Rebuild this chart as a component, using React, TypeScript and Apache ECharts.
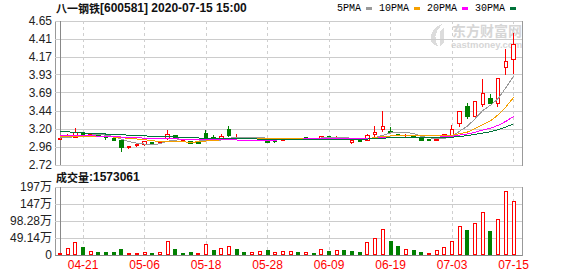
import React, { useEffect, useRef } from 'react';
import * as echarts from 'echarts';

const dates = ['04-16','04-17','04-20','04-21','04-22','04-23','04-24','04-27','04-28','04-29','04-30',
  '05-06','05-07','05-08','05-11','05-12','05-13','05-14','05-15','05-18','05-19','05-20','05-21','05-22','05-25','05-26','05-27','05-28','05-29',
  '06-01','06-02','06-03','06-04','06-05','06-08','06-09','06-10','06-11','06-12','06-15','06-16','06-17','06-18','06-19','06-22','06-23','06-24','06-29','06-30',
  '07-01','07-02','07-03','07-06','07-07','07-08','07-09','07-10','07-13','07-14','07-15'];

const opens = [3.06,3.10,3.095,3.145,3.115,3.115,3.095,3.075,3.045,2.955, 2.975,3.0,3.015,3.015,3.075,3.12,3.05,3.04,3.03,3.145, 3.085,3.07,3.20,3.08,3.085,3.08,3.09,3.05,3.045,3.045, 3.07,3.08,3.085,3.08,3.075,3.10,3.075,3.09,3.015,3.055, 3.055,3.13,3.195,3.175,3.135,3.115,3.105,3.085,3.065,3.05, 3.10,3.12,3.28,3.51,3.37,3.525,3.605,3.55,4.03,4.13];
const closes = [3.075,3.115,3.16,3.125,3.13,3.10,3.09,3.05,2.96,2.965, 2.995,3.03,3.005,3.03,3.135,3.07,3.06,3.005,3.01,3.08, 3.08,3.10,3.115,3.095,3.08,3.085,3.09,3.025,3.03,3.065, 3.08,3.075,3.08,3.075,3.10,3.08,3.095,3.08,3.045,3.035, 3.11,3.16,3.24,3.15,3.11,3.12,3.085,3.05,3.055,3.06, 3.13,3.20,3.435,3.37,3.57,3.68,3.55,3.88,4.105,4.33];
const lows = [3.055,3.08,3.08,3.115,3.09,3.095,3.055,3.045,2.89,2.94, 2.955,2.98,3.0,3.01,3.055,3.065,3.04,3.0,3.0,3.07, 3.075,3.065,3.10,3.07,3.075,3.075,3.07,3.01,3.02,3.04, 3.07,3.07,3.075,3.07,3.07,3.075,3.07,3.075,3.0,3.03, 3.045,3.08,3.16,3.14,3.105,3.09,3.08,3.045,3.05,3.045, 3.095,3.10,3.225,3.335,3.36,3.50,3.54,3.50,3.925,3.94];
const highs = [3.08,3.13,3.215,3.155,3.145,3.12,3.10,3.08,3.05,2.98, 3.0,3.045,3.02,3.035,3.19,3.125,3.065,3.045,3.035,3.19, 3.12,3.135,3.245,3.13,3.09,3.09,3.095,3.06,3.05,3.07, 3.085,3.085,3.09,3.085,3.115,3.105,3.11,3.095,3.065,3.06, 3.13,3.245,3.445,3.225,3.14,3.13,3.115,3.09,3.07,3.065, 3.135,3.255,3.45,3.55,3.58,3.87,3.675,3.885,4.27,4.495];

const volumes = [60000,200000,366000,231000,106000,87000,87000,87000,173000,58000, 58000,77000,58000,77000,405000,173000,58000,87000,58000,318000, 145000,202000,250000,173000,87000,77000,106000,145000,77000,106000, 106000,87000,77000,58000,164000,116000,135000,145000,116000,87000, 366000,491000,752000,405000,260000,164000,145000,87000,67000,135000, 222000,395000,829000,732000,915000,1233000,694000,1031000,1850000,1573061];
const volUp = [1,1,1,0,1,0,0,0,0,1, 1,1,0,1,1,0,0,0,1,1, 0,1,1,0,0,1,1,0,1,1, 1,0,1,0,1,0,1,0,0,0, 1,1,1,0,0,1,0,0,1,1, 1,1,1,0,1,1,0,1,1,1];

const ma5 = [3.08,3.09,3.10,3.11,3.121,3.126,3.121,3.099,3.066,3.033, 3.012,3.0,2.991,3.005,3.039,3.054,3.06,3.06,3.056,3.045, 3.047,3.055,3.078,3.094,3.094,3.095,3.093,3.075,3.062,3.059, 3.058,3.055,3.066,3.075,3.082,3.082,3.086,3.086,3.079,3.067, 3.073,3.086,3.118,3.149,3.154,3.156,3.141,3.103,3.084,3.074, 3.076,3.099,3.176,3.239,3.341,3.451,3.521,3.61,3.757,3.909];
const ma10 = [3.10,3.10,3.105,3.105,3.105,3.105,3.10,3.095,3.085,3.077, 3.069,3.06,3.045,3.035,3.036,3.033,3.03,3.025,3.03,3.042, 3.05,3.057,3.068,3.075,3.069,3.071,3.074,3.076,3.078,3.076, 3.076,3.074,3.07,3.068,3.07,3.07,3.07,3.076,3.077,3.074, 3.077,3.086,3.102,3.109,3.11,3.114,3.113,3.11,3.111,3.114, 3.116,3.12,3.14,3.162,3.208,3.264,3.31,3.393,3.498,3.625];
const ma20 = [3.11,3.11,3.112,3.112,3.11,3.108,3.105,3.10,3.095,3.09, 3.085,3.08,3.076,3.073,3.072,3.07,3.067,3.063,3.06,3.06, 3.06,3.059,3.057,3.055,3.053,3.052,3.052,3.051,3.054,3.059, 3.064,3.066,3.07,3.072,3.07,3.071,3.072,3.076,3.078,3.076, 3.077,3.08,3.086,3.089,3.091,3.092,3.092,3.093,3.095,3.094, 3.097,3.103,3.121,3.136,3.159,3.189,3.212,3.252,3.305,3.37];
const ma30 = [3.175,3.165,3.155,3.15,3.145,3.14,3.135,3.13,3.125,3.12, 3.115,3.11,3.105,3.10,3.10,3.095,3.09,3.085,3.082,3.08, 3.078,3.076,3.074,3.072,3.07,3.069,3.068,3.067,3.066,3.065, 3.065,3.064,3.061,3.06,3.059,3.058,3.058,3.059,3.062,3.064, 3.068,3.073,3.08,3.084,3.084,3.085,3.086,3.088,3.089,3.088, 3.09,3.093,3.104,3.113,3.13,3.149,3.165,3.193,3.229,3.271];

const priceTicks = [2.72, 2.96, 3.20, 3.44, 3.69, 3.93, 4.17, 4.41, 4.65];
const dateTickIdx = [3, 11, 19, 27, 35, 43, 51, 59];
const maNames = ['5PMA', '10PMA', '20PMA', '30PMA'];
const maColors = ['#9a9a9a', '#f5a000', '#ff00ff', '#00733a'];
const UP = '#ff0000';
const DOWN = '#008000';

const SANS = '"Liberation Sans", Arial, "Noto Sans CJK SC", sans-serif';
const CJK = '"Noto Sans CJK SC", sans-serif';

echarts.graphic.registerShape('logo', echarts.graphic.extendPath(
  'M14 0 C6 3 1 10 3 17 C4 20 7 22 10 22 C6 17 6 9 14 0 Z M12 7 L16 4 L16 19 L12 22 Z', {}
));

function fmtVol(v: number) {
  if (v === 0) return '0';
  const w = v / 10000;
  return (w >= 100 ? String(Math.round(w)) : w.toFixed(2)) + '万';
}

export default function App() {
  const ref = useRef<HTMLDivElement>(null);
  useEffect(() => {
    if (!ref.current) return;
    const chart = echarts.init(ref.current, undefined, { renderer: 'svg' });
    const maData = [ma5, ma10, ma20, ma30];
    const option: any = {
      animation: false,
      textStyle: { fontFamily: SANS },
      title: [
        {
          text: '{c|八一钢铁}{a|[600581] 2020-07-15 15:00}', left: 56, top: 2, padding: 0,
          textStyle: { rich: { c: { fontSize: 11, fontFamily: CJK, color: '#111' }, a: { fontSize: 12, fontFamily: SANS, color: '#111' } } },
        },
        {
          text: '{c|成交量}{a|:1573061}', left: 56, top: 171, padding: 0,
          textStyle: { rich: { c: { fontSize: 11, fontFamily: CJK, color: '#111' }, a: { fontSize: 12, fontFamily: SANS, color: '#111' } } },
        },
      ],
      legend: {
        left: 337, top: 3, padding: 0, align: 'right', itemWidth: 6, itemHeight: 3, itemGap: 7,
        selectedMode: false,
        textStyle: { fontSize: 10, fontFamily: '"Liberation Mono", monospace', color: '#000' },
        data: maNames.map((n) => ({ name: n, icon: 'rect' })),
      },
      graphic: [
        { type: 'logo', x: 428, y: 24, scaleX: 1, scaleY: 1, style: { fill: '#dcdcdc' } },
        { type: 'text', x: 452, y: 23, style: { text: '东方财富网', font: 'bold 14px "Noto Sans CJK SC"', fill: '#d6d6d6' } },
        { type: 'text', x: 451, y: 39, style: { text: 'eastmoney.com', font: 'bold 9.5px "Liberation Sans"', fill: '#d6d6d6' } },
      ],
      grid: [
        { left: 55, top: 21, width: 467, height: 144, show: true, borderColor: '#999', borderWidth: 1 },
        { left: 55, top: 187, width: 467, height: 68, show: true, borderColor: '#999', borderWidth: 1 },
      ],
      xAxis: [
        {
          type: 'value', gridIndex: 0, min: -0.65, max: 60.1,
          axisLine: { show: false },
          axisTick: { show: false, customValues: dateTickIdx },
          axisLabel: { show: false, customValues: dateTickIdx },
          splitLine: { show: true, lineStyle: { color: '#cfcfcf', type: [3, 3] } },
        },
        {
          type: 'value', gridIndex: 1, min: -0.65, max: 60.1,
          axisLine: { show: true, lineStyle: { color: '#888' } },
          axisTick: { show: false, customValues: dateTickIdx },
          axisLabel: { show: true, customValues: dateTickIdx, formatter: (v: number) => dates[Math.round(v)], color: UP, fontSize: 12, margin: 4 },
          splitLine: { show: true, lineStyle: { color: '#cfcfcf', type: [3, 3] } },
        },
      ],
      yAxis: [
        {
          type: 'value', gridIndex: 0, min: 2.72, max: 4.65,
          axisLine: { show: true, lineStyle: { color: '#888' } },
          axisTick: { show: false, customValues: priceTicks },
          axisLabel: { customValues: priceTicks, formatter: (v: number) => v.toFixed(2), color: '#222', fontSize: 12, margin: 3 },
          splitLine: { show: true, lineStyle: { color: '#cccccc' } },
        },
        {
          type: 'value', gridIndex: 1, min: 0, max: 1965600, interval: 491400,
          axisLine: { show: true, lineStyle: { color: '#888' } },
          axisTick: { show: false },
          axisLabel: { formatter: fmtVol, color: '#222', fontSize: 12, margin: 3 },
          splitLine: { show: true, lineStyle: { color: '#cccccc' } },
        },
      ],
      series: [
        {
          type: 'candlestick', name: 'K', xAxisIndex: 0, yAxisIndex: 0, barWidth: 4,
          data: opens.map((o, i) => {
            const v = [i, o, closes[i], lows[i], highs[i]];
            return o === closes[i] ? { value: v, itemStyle: { color: '#000', borderColor: '#000', color0: '#000', borderColor0: '#000' } } : v;
          }),
          itemStyle: { color: '#ffffff', color0: DOWN, borderColor: UP, borderColor0: DOWN, borderWidth: 1 },
        },
        ...maNames.map((n, k) => ({
          type: 'line', name: n, xAxisIndex: 0, yAxisIndex: 0,
          data: maData[k].map((v, i) => [i, v]),
          showSymbol: false, symbol: 'none', color: maColors[k],
          lineStyle: { width: 1, color: maColors[k] },
        })),
        {
          type: 'bar', name: 'VOL', xAxisIndex: 1, yAxisIndex: 1, barWidth: 4,
          data: volumes.map((v, i) => ({
            value: [i, v],
            itemStyle: volUp[i]
              ? { color: '#ffffff', borderColor: UP, borderWidth: 1 }
              : { color: DOWN, borderColor: DOWN, borderWidth: 1 },
          })),
        },
      ],
    };
    chart.setOption(option);
    return () => chart.dispose();
  }, []);
  return (
    <>
      <style>{'#kchart svg path, #kchart svg rect, #kchart svg line, #kchart svg polyline { shape-rendering: crispEdges; }'}</style>
      <div id="kchart" ref={ref} style={{ position: 'fixed', left: 0, top: 0, width: 578, height: 276, background: '#fff' }} />
    </>
  );
}
